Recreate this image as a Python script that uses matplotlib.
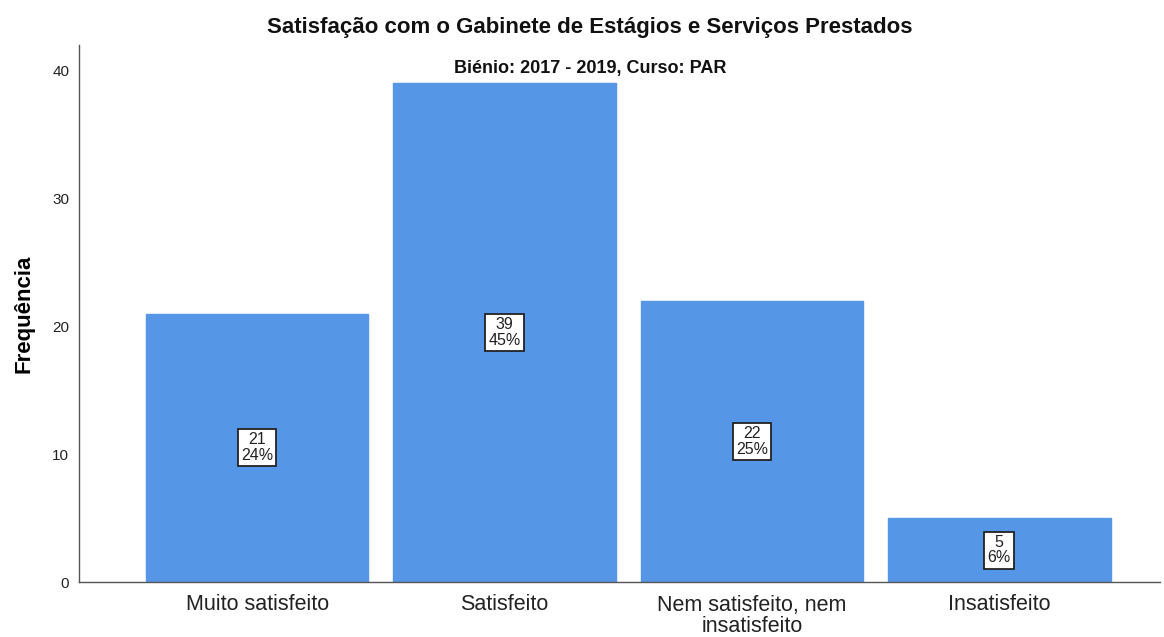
import matplotlib
matplotlib.use("Agg")
import matplotlib.pyplot as plt

plt.rcParams['font.family'] = ['Liberation Sans', 'DejaVu Sans']

# data
categories = ['Muito satisfeito', 'Satisfeito', 'Nem satisfeito, nem\ninsatisfeito', 'Insatisfeito']
counts = [21, 39, 22, 5]
percents = ['24%', '45%', '25%', '6%']

fig = plt.figure(figsize=(11.64, 6.37), dpi=100)
ax = fig.add_axes([79 / 1164, 1 - 582 / 637, (1160 - 79) / 1164, (582 - 45) / 637])

x = range(len(categories))
ax.bar(x, counts, width=0.9, color='#5596E6', edgecolor='#5596E6', zorder=2)

for i, (c, p) in enumerate(zip(counts, percents)):
    ax.text(i, c / 2, f'{c}\n{p}', ha='center', va='center', fontsize=11.5, linespacing=1.05,
            color='#222222',
            bbox=dict(boxstyle='square,pad=0.2', facecolor='white', edgecolor='#222222', linewidth=1.3))

ax.set_xlim(-0.72, 3.65)
ax.set_ylim(0, 42)
ax.set_yticks([0, 10, 20, 30, 40])
ax.set_xticks(list(x))
ax.set_xticklabels(categories, fontsize=15.5, color='#222222', linespacing=1.0)
ax.tick_params(axis='both', length=0)
ax.tick_params(axis='y', labelsize=11, pad=7, labelcolor='#222222')
ax.tick_params(axis='x', pad=9)

for s in ['top', 'right']:
    ax.spines[s].set_visible(False)
for s in ['left', 'bottom']:
    ax.spines[s].set_color('#555555')
    ax.spines[s].set_linewidth(1)

ax.set_ylabel('Frequência', fontsize=16, fontweight='bold')
ax.yaxis.set_label_coords(-45 / 1081, 0.5)
fig.text(590 / 1164, 1 - 28 / 637, 'Satisfação com o Gabinete de Estágios e Serviços Prestados',
         ha='center', va='center', fontsize=16, fontweight='bold', color='#111111')
fig.text(590 / 1164, 1 - 68 / 637, 'Biénio: 2017 - 2019, Curso: PAR',
         ha='center', va='center', fontsize=13, fontweight='bold', color='#111111')

fig.savefig('out.png', dpi=100)
